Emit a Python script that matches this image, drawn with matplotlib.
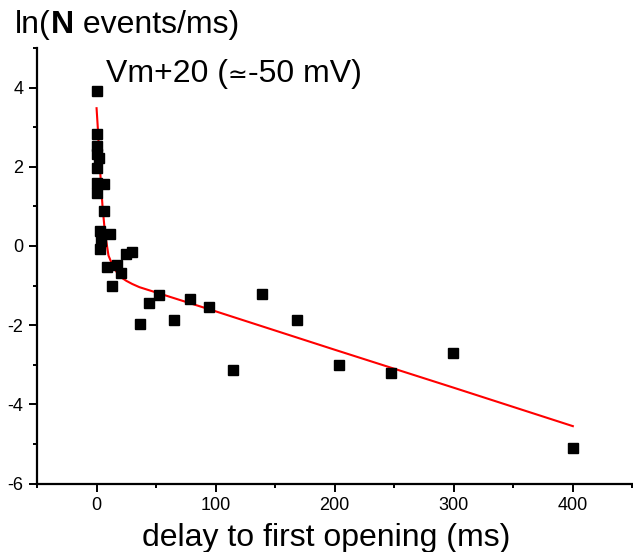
import matplotlib
matplotlib.use("Agg")
import matplotlib.pyplot as plt
from matplotlib.ticker import MultipleLocator

plt.rcParams['font.family'] = ['Liberation Sans', 'DejaVu Sans']
plt.rcParams['axes.unicode_minus'] = False

# measured points: delay (ms) vs ln(N events/ms)
delay = [0, 0, 0.3, 0.7, 2, 0, 0.7, 6.2, 0.7, 6.5, 3.1, 11.2, 3.6, 2.8,
         24.5, 29.5, 9, 16.9, 20.3, 13.2,
         36.3, 43.9, 52.3, 65, 78.5, 94.5, 114.8, 139.2, 168, 204, 247, 299.6, 400]
ln_events = [3.92, 2.82, 2.52, 2.32, 2.23, 1.97, 1.6, 1.57, 1.34, 0.88, 0.37, 0.3, 0.13, -0.07,
             -0.2, -0.16, -0.53, -0.49, -0.69, -1.02,
             -1.98, -1.45, -1.25, -1.86, -1.35, -1.53, -3.13, -1.22, -1.88, -3.0, -3.2, -2.7, -5.09]

# fitted curve
fit_x = [0, 1.1, 2.5, 4, 5, 7, 10, 12.5, 15, 17.5, 20, 25, 30, 36, 100, 200, 300, 400]
fit_y = [3.48, 2.96, 2.12, 1.45, 1.0, 0.35, -0.24, -0.42, -0.57, -0.69, -0.78, -0.88, -0.96, -1.04,
         -1.65, -2.62, -3.58, -4.55]

fig = plt.figure(figsize=(6.33, 5.52), dpi=100)
ax = fig.add_axes([0.0585, 0.124, 0.9405, 0.789])

ax.plot(fit_x, fit_y, color='red', lw=1.5, zorder=2)
ax.plot(delay, ln_events, 's', color='black', ms=7, zorder=3)

ax.set_xlim(-50, 450)
ax.set_ylim(-6, 5)
ax.xaxis.set_major_locator(MultipleLocator(100))
ax.xaxis.set_minor_locator(MultipleLocator(50))
ax.yaxis.set_major_locator(MultipleLocator(2))
ax.yaxis.set_minor_locator(MultipleLocator(1))

for side in ['top', 'right']:
    ax.spines[side].set_visible(False)
for side in ['left', 'bottom']:
    ax.spines[side].set_linewidth(1.6)

ax.tick_params(which='major', direction='out', length=6, width=1.4, labelsize=13, pad=4)
ax.tick_params(which='minor', direction='out', length=3, width=1.4)


def text_pieces(x_px, y_px, pieces):
    # write pieces one after another along a baseline, x/y in pixels from top-left
    renderer = fig.canvas.get_renderer()
    x = x_px
    for s, kw in pieces:
        t = fig.text(x / 633, 1 - y_px / 552, s, va='baseline', ha='left', **kw)
        x += t.get_window_extent(renderer).width


text_pieces(15, 33, [('ln(', dict(fontsize=23)),
                     ('N', dict(fontsize=23, fontweight='bold')),
                     (' events/ms)', dict(fontsize=23))])
text_pieces(106, 82.5, [('Vm+20 (', dict(fontsize=23)),
                        ('\u2243', dict(fontsize=17, family='DejaVu Sans')),
                        ('-50 mV)', dict(fontsize=23))])
fig.text(326 / 633, 0.011, 'delay to first opening (ms)', fontsize=23, va='baseline', ha='center')

fig.savefig('out.png', dpi=100)
